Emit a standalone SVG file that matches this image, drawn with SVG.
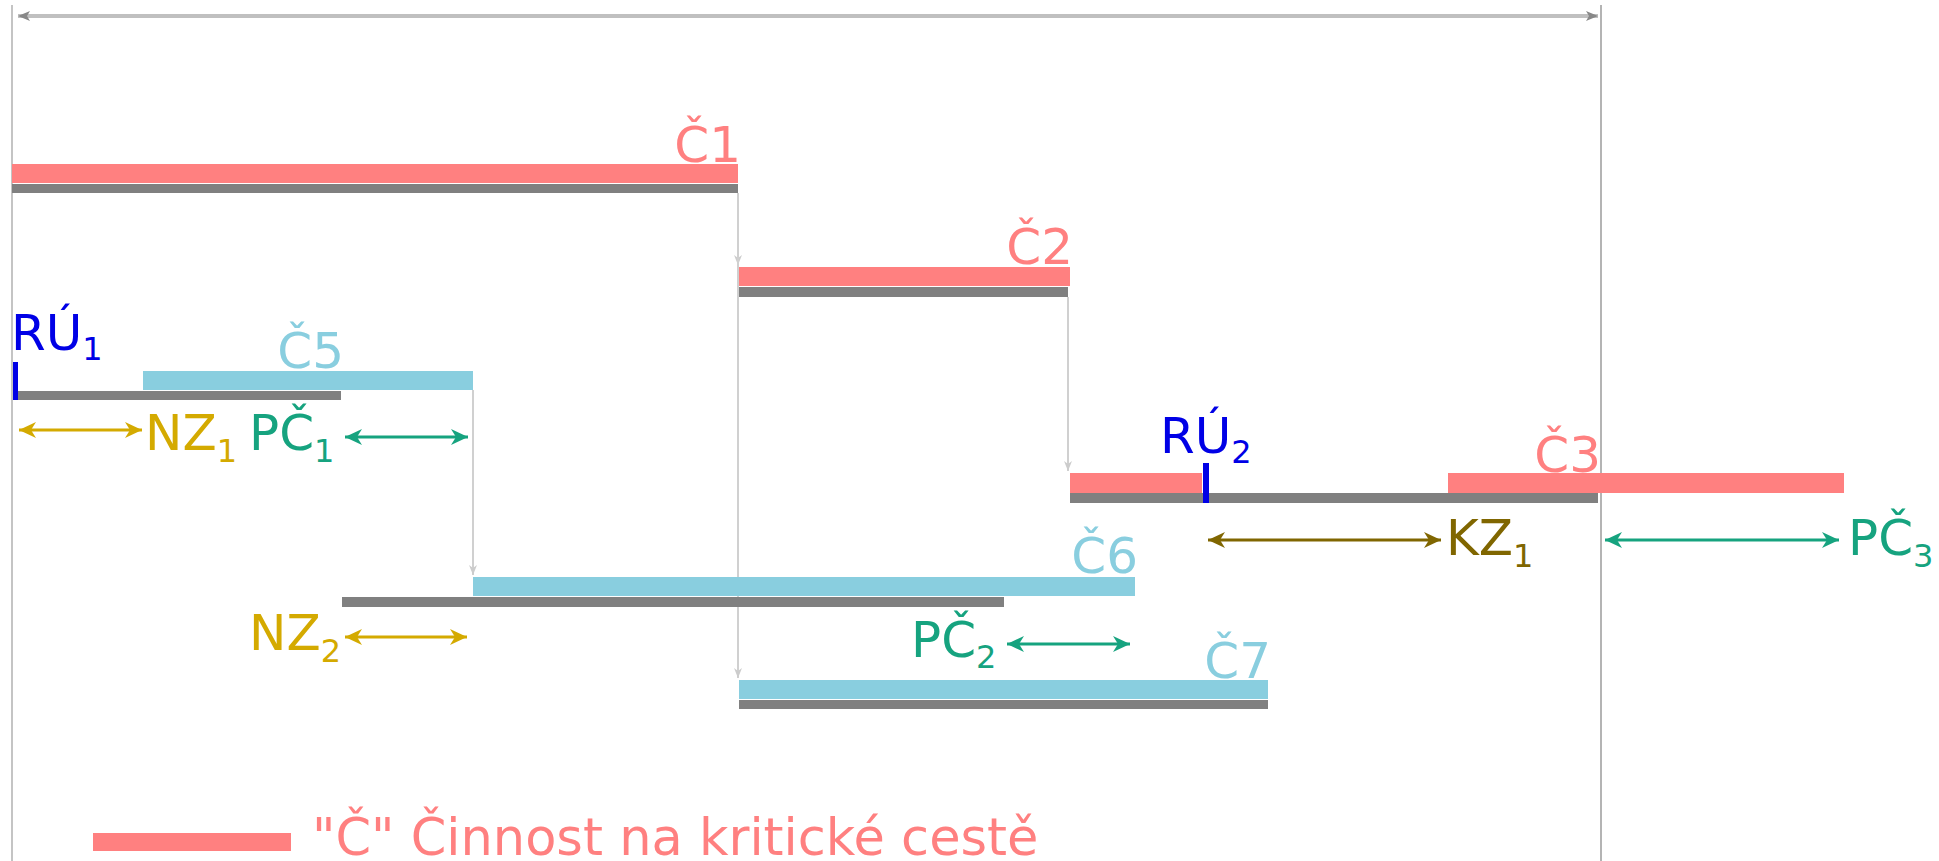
<svg xmlns="http://www.w3.org/2000/svg" width="1939" height="861" viewBox="0 0 1939 861">
<style>
  text { font-family: "DejaVu Sans", Verdana, sans-serif; font-size: 50px; }
  .sub { font-size: 32px; }
  .red { fill: #ff8080; }
  .blue { fill: #89cedf; }
  .gray { fill: #808080; }
  .tick { fill: #0000e6; }
  .guide { stroke: #c4c4c4; stroke-width: 2; fill: none; }
  .conn { stroke: #d0d0d0; stroke-width: 2; fill: none; }
  .dim { stroke-width: 3; fill: none; }
  .tRed { fill: #ff8080; }
  .tBlue { fill: #89cedf; }
  .tRU { fill: #0000e6; }
  .tGold { fill: #d4aa00; }
  .tTeal { fill: #16a37f; }
  .tOlive { fill: #806600; }
</style>
<defs>
  <marker id="mTop" viewBox="-12 -6 14 12" refX="0" refY="0" markerWidth="14" markerHeight="12" markerUnits="userSpaceOnUse" orient="auto-start-reverse">
    <path d="M0,0 L-12,-5 L-9,0 L-12,5 Z" fill="#888888"/>
  </marker>
  <marker id="mConn" viewBox="-10 -5 11 10" refX="0" refY="0" markerWidth="11" markerHeight="10" markerUnits="userSpaceOnUse" orient="auto">
    <path d="M0,0 L-10,-4 L-7,0 L-10,4 Z" fill="#cccccc"/>
  </marker>
  <marker id="mGold" viewBox="-18 -9 19 18" refX="0" refY="0" markerWidth="19" markerHeight="18" markerUnits="userSpaceOnUse" orient="auto-start-reverse">
    <path d="M0,0 L-17,-8 L-12,0 L-17,8 Z" fill="#d4aa00"/>
  </marker>
  <marker id="mTeal" viewBox="-18 -9 19 18" refX="0" refY="0" markerWidth="19" markerHeight="18" markerUnits="userSpaceOnUse" orient="auto-start-reverse">
    <path d="M0,0 L-17,-8 L-12,0 L-17,8 Z" fill="#16a37f"/>
  </marker>
  <marker id="mOlive" viewBox="-18 -9 19 18" refX="0" refY="0" markerWidth="19" markerHeight="18" markerUnits="userSpaceOnUse" orient="auto-start-reverse">
    <path d="M0,0 L-17,-8 L-12,0 L-17,8 Z" fill="#806600"/>
  </marker>
</defs>
<rect width="1939" height="861" fill="#ffffff"/>

<g id="frame">
  <line class="guide" x1="12" y1="5" x2="12" y2="861"/>
  <line class="guide" x1="1601" y1="5" x2="1601" y2="861" style="stroke:#b4b4b4"/>
  <line x1="18" y1="16" x2="1598" y2="16" stroke="#c0c0c0" stroke-width="4" marker-start="url(#mTop)" marker-end="url(#mTop)"/>
</g>

<g id="connectors">
  <line class="conn" x1="738" y1="193" x2="738" y2="265" marker-end="url(#mConn)"/>
  <line class="conn" x1="738" y1="193" x2="738" y2="678" marker-end="url(#mConn)"/>
  <line class="conn" x1="1068" y1="297" x2="1068" y2="471" marker-end="url(#mConn)"/>
  <line class="conn" x1="473" y1="390" x2="473" y2="575" marker-end="url(#mConn)"/>
</g>

<g id="C1">
  <rect class="red" x="12" y="164" width="726" height="19"/>
  <rect class="gray" x="12" y="184" width="726" height="9"/>
  <text class="tRed" x="741" y="162" text-anchor="end">Č1</text>
</g>

<g id="C2">
  <rect class="red" x="739" y="267" width="331" height="19"/>
  <rect class="gray" x="739" y="287" width="329" height="10"/>
  <text class="tRed" x="1073" y="264" text-anchor="end">Č2</text>
</g>

<g id="C5">
  <rect class="blue" x="143" y="371" width="330" height="19"/>
  <rect class="gray" x="13" y="391" width="328" height="9"/>
  <text class="tBlue" x="344" y="368" text-anchor="end">Č5</text>
</g>

<g id="RU1">
  <rect class="tick" x="13" y="362" width="5" height="38"/>
  <text class="tRU" x="11" y="350">RÚ<tspan class="sub" dy="10">1</tspan></text>
</g>

<g id="NZ1">
  <line class="dim" x1="19" y1="430" x2="142" y2="430" stroke="#d4aa00" marker-start="url(#mGold)" marker-end="url(#mGold)"/>
  <text class="tGold" x="145" y="450">NZ<tspan class="sub" dy="12">1</tspan></text>
</g>

<g id="PC1">
  <line class="dim" x1="345" y1="437" x2="468" y2="437" stroke="#16a37f" marker-start="url(#mTeal)" marker-end="url(#mTeal)"/>
  <text class="tTeal" x="249" y="450">PČ<tspan class="sub" dy="12">1</tspan></text>
</g>

<g id="C3">
  <rect class="red" x="1070" y="473" width="132" height="20"/>
  <rect class="gray" x="1070" y="493" width="528" height="10"/>
  <rect class="red" x="1448" y="473" width="396" height="20"/>
  <text class="tRed" x="1601" y="472" text-anchor="end">Č3</text>
</g>

<g id="RU2">
  <rect class="tick" x="1203" y="463" width="6" height="40"/>
  <text class="tRU" x="1160" y="453">RÚ<tspan class="sub" dy="10">2</tspan></text>
</g>

<g id="KZ1">
  <line class="dim" x1="1208" y1="540" x2="1441" y2="540" stroke="#806600" marker-start="url(#mOlive)" marker-end="url(#mOlive)"/>
  <text class="tOlive" x="1446" y="555">KZ<tspan class="sub" dy="12">1</tspan></text>
</g>

<g id="PC3">
  <line class="dim" x1="1605" y1="540" x2="1839" y2="540" stroke="#16a37f" marker-start="url(#mTeal)" marker-end="url(#mTeal)"/>
  <text class="tTeal" x="1848" y="555">PČ<tspan class="sub" dy="12">3</tspan></text>
</g>

<g id="C6">
  <rect class="blue" x="473" y="577" width="662" height="19"/>
  <rect class="gray" x="342" y="597" width="662" height="10"/>
  <text class="tBlue" x="1138" y="573" text-anchor="end">Č6</text>
</g>

<g id="NZ2">
  <line class="dim" x1="345" y1="637" x2="467" y2="637" stroke="#d4aa00" marker-start="url(#mGold)" marker-end="url(#mGold)"/>
  <text class="tGold" x="249" y="650">NZ<tspan class="sub" dy="12">2</tspan></text>
</g>

<g id="PC2">
  <line class="dim" x1="1007" y1="644" x2="1130" y2="644" stroke="#16a37f" marker-start="url(#mTeal)" marker-end="url(#mTeal)"/>
  <text class="tTeal" x="911" y="657">PČ<tspan class="sub" dy="11">2</tspan></text>
</g>

<g id="C7">
  <rect class="blue" x="739" y="680" width="529" height="19"/>
  <rect class="gray" x="739" y="700" width="529" height="9"/>
  <text class="tBlue" x="1271" y="678" text-anchor="end">Č7</text>
</g>

<g id="legend">
  <rect class="red" x="93" y="833" width="198" height="18"/>
  <text class="tRed" x="312" y="855" style="font-size:51px">"Č" Činnost na kritické cestě</text>
</g>
</svg>
